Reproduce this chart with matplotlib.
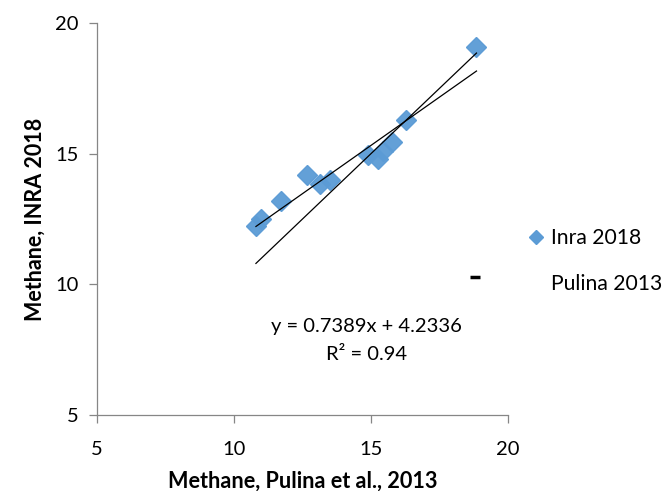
import matplotlib
matplotlib.use("Agg")
import matplotlib.pyplot as plt
from matplotlib.lines import Line2D
import numpy as np

# data
pulina_x = [10.8, 11.0, 11.7, 12.65, 13.15, 13.5, 14.9, 15.25, 15.45, 15.75, 16.27, 18.85]
inra_y = [12.25, 12.5, 13.2, 14.2, 13.85, 14.0, 14.95, 14.8, 15.1, 15.45, 16.3, 19.1]
pulina_mark = ([18.8], [10.28])  # lone dash of the "Pulina 2013" series
slope, intercept = 0.7389, 4.2336
r2 = 0.94
ticks = [5, 10, 15, 20]

plt.rcParams["font.family"] = ["Lato", "DejaVu Sans"]

fig = plt.figure(figsize=(6.63, 4.91), dpi=100)
ax = fig.add_axes([97 / 663, 1 - 415 / 491, (508 - 97) / 663, (415 - 23) / 491])

blue = "#5B9BD5"
gray = "#868686"

ax.plot(pulina_x, inra_y, linestyle="none", marker="D", markersize=10,
        color=blue, markeredgecolor=blue, alpha=0.95, zorder=2)
ax.plot(*pulina_mark, linestyle="none", marker="_", markersize=7,
        markeredgewidth=2.5, color="black", zorder=3)

xs = np.array([min(pulina_x), max(pulina_x)])
# linear trend and 1:1 line
ax.plot(xs, slope * xs + intercept, color="black", lw=0.9, zorder=4)
ax.plot(xs, xs, color="black", lw=0.9, zorder=4)

ax.text(14.85, 8.37, f"y = {slope}x + {intercept}", ha="center", va="center", fontsize=14.5)
ax.text(14.85, 7.3, f"R² = {r2}", ha="center", va="center", fontsize=14.5)

ax.set_xlim(5, 20)
ax.set_ylim(5, 20)
ax.set_xticks(ticks)
ax.set_yticks(ticks)
for s in ["top", "right"]:
    ax.spines[s].set_visible(False)
for s in ["left", "bottom"]:
    ax.spines[s].set_color(gray)
    ax.spines[s].set_linewidth(0.9)
ax.tick_params(colors=gray, labelcolor="black", labelsize=14.5, length=6, width=0.9)
ax.tick_params(axis="y", pad=7)
ax.tick_params(axis="x", pad=13)

ax.set_xlabel("Methane, Pulina et al., 2013", fontsize=15.6, fontweight="bold", labelpad=9)
ax.set_ylabel("Methane, INRA 2018", fontsize=15.5, fontweight="bold", labelpad=7)

handles = [
    Line2D([], [], linestyle="none", marker="D", markersize=7, color=blue),
    Line2D([], [], linestyle="none", marker=""),
]
fig.legend(handles, ["Inra 2018", "Pulina 2013"], loc="upper left",
           bbox_to_anchor=(509 / 663, 1 - 209 / 491), frameon=False,
           fontsize=15.2, handlelength=0.8, handletextpad=0.3, labelspacing=1.25)

fig.savefig("out.png", dpi=100)
